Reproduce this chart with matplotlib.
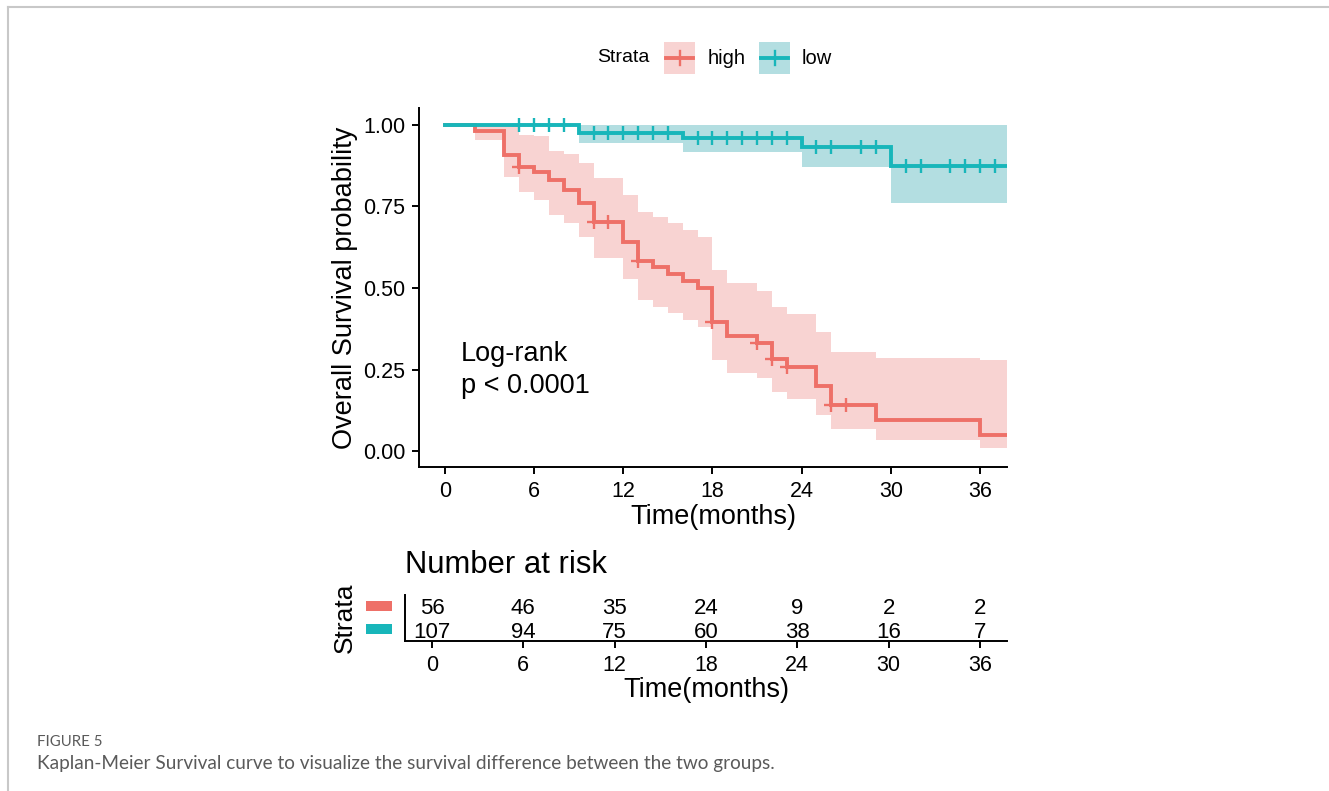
import matplotlib
matplotlib.use("Agg")
import matplotlib.pyplot as plt
from matplotlib.patches import Rectangle
from matplotlib.lines import Line2D
import numpy as np

# ---------------- data ----------------
high_time  = [0, 2, 4, 5, 6, 7, 8, 9, 10, 12, 13, 14, 15, 16, 17, 18, 19, 21, 22, 23, 25, 26, 29, 36, 37.8]
high_surv  = [1.0, 0.982, 0.908, 0.872, 0.857, 0.831, 0.800, 0.760, 0.703, 0.642, 0.582, 0.564, 0.544,
              0.520, 0.500, 0.397, 0.352, 0.330, 0.282, 0.258, 0.200, 0.142, 0.096, 0.048, 0.048]
high_upper = [1.0, 1.0, 1.0, 0.970, 0.965, 0.920, 0.910, 0.882, 0.836, 0.785, 0.734, 0.717, 0.698,
              0.678, 0.657, 0.555, 0.514, 0.492, 0.443, 0.419, 0.364, 0.305, 0.286, 0.279, 0.279]
high_lower = [1.0, 0.954, 0.841, 0.793, 0.770, 0.724, 0.698, 0.657, 0.591, 0.528, 0.463, 0.443, 0.422,
              0.402, 0.381, 0.280, 0.240, 0.224, 0.180, 0.159, 0.110, 0.068, 0.033, 0.008, 0.008]
high_censor = [5, 10, 11, 13, 18, 21, 22, 23, 26, 27]

low_time  = [0, 9, 16, 24, 30, 37.8]
low_surv  = [1.0, 0.974, 0.959, 0.933, 0.875, 0.875]
low_upper = [1.0, 1.0, 1.0, 1.0, 1.0, 1.0]
low_lower = [1.0, 0.944, 0.918, 0.872, 0.760, 0.760]
low_censor = [5, 6, 7, 8, 10, 11, 12, 13, 14, 15, 17, 18, 19, 20, 21, 22, 23,
              25, 26, 28, 29, 31, 32, 34, 35, 36, 37]

risk_times = [0, 6, 12, 18, 24, 30, 36]
risk_high = [56, 46, 35, 24, 9, 2, 2]
risk_low  = [107, 94, 75, 60, 38, 16, 7]

strata_labels = ["high", "low"]
y_ticks = [0.00, 0.25, 0.50, 0.75, 1.00]
y_ticklabels = ["0.00", "0.25", "0.50", "0.75", "1.00"]

# ---------------- style ----------------
RED = "#EE7068"
TEAL = "#18B6BA"
RED_FILL = "#F8D3D2"
TEAL_FILL = "#B3DEE1"
FONT = ["Liberation Sans", "DejaVu Sans"]
plt.rcParams["font.family"] = FONT

W, H = 1329, 791
fig = plt.figure(figsize=(W / 100, H / 100), dpi=100)


def box(l, t, r, b):
    return [l / W, 1 - b / H, (r - l) / W, (b - t) / H]


def fx(x):
    return x / W


def fy(y):
    return 1 - y / H


def step_val(times, vals, t):
    idx = np.searchsorted(times, t, side="right") - 1
    return vals[idx]


# ---------------- main KM axes ----------------
ax = fig.add_axes(box(419, 108, 1007, 467))
groups = [
    (high_time, high_surv, high_lower, high_upper, RED, RED_FILL, high_censor),
    (low_time, low_surv, low_lower, low_upper, TEAL, TEAL_FILL, low_censor),
]
for times, surv, lo, up, col, fcol, cens in groups:
    ax.fill_between(times, lo, up, step="post", color=fcol, linewidth=0, zorder=1)
for times, surv, lo, up, col, fcol, cens in groups:
    ax.step(times, surv, where="post", color=col, linewidth=2.8, zorder=3,
            solid_joinstyle="miter")
    cy = [step_val(np.array(times), np.array(surv), t) for t in cens]
    ax.plot(cens, cy, linestyle="none", marker="+", markersize=10,
            markeredgewidth=1.7, color=col, zorder=4)

ax.set_xlim(-1.75, 37.82)
ax.set_ylim(-0.049, 1.052)
ax.set_xticks(risk_times)
ax.set_xticklabels([str(t) for t in risk_times])
ax.set_yticks(y_ticks)
ax.set_yticklabels(y_ticklabels)
for s in ["top", "right"]:
    ax.spines[s].set_visible(False)
for s in ["left", "bottom"]:
    ax.spines[s].set_linewidth(1.4)
ax.tick_params(axis="both", length=5, width=1.4, labelsize=15.5, pad=5, colors="black")
ax.text(1.05, 0.298, "Log-rank", fontsize=19.5, va="center", ha="left")
ax.text(1.05, 0.200, "p < 0.0001", fontsize=19.5, va="center", ha="left")

fig.text(fx(713), fy(517), "Time(months)", fontsize=19.5, ha="center", va="center")
fig.text(fx(345), fy(288), "Overall Survival probability", fontsize=19.5,
         ha="center", va="center", rotation=90)

# ---------------- legend ----------------
fig.text(fx(597), fy(58), "Strata", fontsize=14, ha="left", va="center")
for (kl, kr), col, fcol, lab, tx in [((664, 695), RED, RED_FILL, strata_labels[0], 708),
                                      ((759, 790), TEAL, TEAL_FILL, strata_labels[1], 802)]:
    fig.patches.append(Rectangle((fx(kl), fy(74)), (kr - kl) / W, 32 / H,
                                 transform=fig.transFigure, facecolor=fcol,
                                 edgecolor="none"))
    fig.lines.append(Line2D([fx(kl + 2), fx(kr - 2)], [fy(58), fy(58)],
                            transform=fig.transFigure, color=col, linewidth=2.8))
    fig.lines.append(Line2D([fx((kl + kr) / 2)] * 2, [fy(51), fy(65)],
                            transform=fig.transFigure, color=col, linewidth=1.7))
    fig.text(fx(tx), fy(58), lab, fontsize=14.5, ha="left", va="center")

# ---------------- risk table ----------------
rax = fig.add_axes(box(405, 595, 1007, 641))
for t, nh, nl in zip(risk_times, risk_high, risk_low):
    rax.text(t, 2, str(nh), ha="center", va="center_baseline", fontsize=16)
    rax.text(t, 1, str(nl), ha="center", va="center_baseline", fontsize=16)
rax.set_xlim(-1.774, 37.77)
rax.set_ylim(0.5, 2.5)
rax.set_xticks(risk_times)
rax.set_xticklabels([str(t) for t in risk_times])
rax.set_yticks([])
for s in ["top", "right"]:
    rax.spines[s].set_visible(False)
for s in ["left", "bottom"]:
    rax.spines[s].set_linewidth(1.4)
rax.tick_params(axis="x", length=5, width=1.4, labelsize=15.5, pad=5)

fig.text(fx(405), fy(565), "Number at risk", fontsize=22.3, ha="left", va="center")
fig.text(fx(706), fy(690), "Time(months)", fontsize=19.5, ha="center", va="center")
fig.text(fx(345), fy(618), "Strata", fontsize=19, ha="center", va="center", rotation=90)
for yc, col in [(606, RED), (629, TEAL)]:
    fig.patches.append(Rectangle((fx(366), fy(yc + 5)), 26 / W, 10 / H,
                                 transform=fig.transFigure, facecolor=col,
                                 edgecolor="none"))

# ---------------- frame and caption ----------------
fig.lines.append(Line2D([fx(7.5), 1.0], [fy(6.5), fy(6.5)], transform=fig.transFigure,
                        color="#C8C8C8", linewidth=1.5))
fig.lines.append(Line2D([fx(7.5), fx(7.5)], [fy(6.5), 0.0], transform=fig.transFigure,
                        color="#C8C8C8", linewidth=1.5))
fig.text(fx(37), fy(742), "FIGURE 5", fontsize=10.8, ha="left", va="center",
         color="#5A5A5A", family=["Lato", "DejaVu Sans"])
fig.text(fx(37), fy(763),
         "Kaplan-Meier Survival curve to visualize the survival difference between the two groups.",
         fontsize=13.7, ha="left", va="center", color="#5A5A5A",
         family=["Lato", "DejaVu Sans"])

fig.savefig("out.png", dpi=100, facecolor="white")
